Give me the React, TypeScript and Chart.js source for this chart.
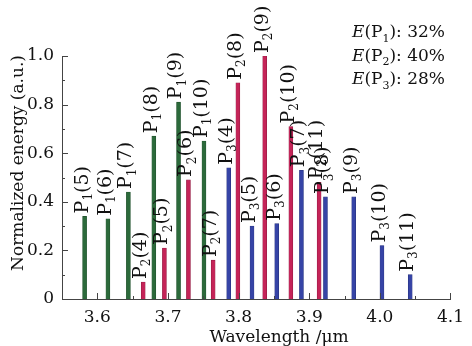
import React, { useEffect, useRef } from "react";
import { Chart, registerables } from "chart.js";

Chart.register(...registerables);

// ---- data ----
const P1_J = [5, 6, 7, 8, 9, 10];
const P1_WL = [3.582, 3.615, 3.644, 3.68, 3.715, 3.751];
const P1_E = [0.34, 0.33, 0.44, 0.67, 0.81, 0.65];

const P2_J = [4, 5, 6, 7, 8, 9, 10, 11];
const P2_WL = [3.665, 3.695, 3.729, 3.764, 3.799, 3.837, 3.874, 3.914];
const P2_E = [0.07, 0.21, 0.49, 0.16, 0.89, 1.0, 0.71, 0.48];

const P3_J = [4, 5, 6, 7, 8, 9, 10, 11];
const P3_WL = [3.786, 3.819, 3.854, 3.889, 3.923, 3.963, 4.003, 4.043];
const P3_E = [0.54, 0.3, 0.31, 0.53, 0.42, 0.42, 0.22, 0.1];

const SERIES_IDX = ["1", "2", "3"];
const ENERGY_SHARE = [32, 40, 28];

const X_TICKS = [3.6, 3.7, 3.8, 3.9, 4.0, 4.1];
const X_MINOR = [3.55, 3.65, 3.75, 3.85, 3.95, 4.05];
const Y_TICKS = [0, 0.2, 0.4, 0.6, 0.8, 1.0];
const Y_MINOR = [0.1, 0.3, 0.5, 0.7, 0.9];

const X_TITLE = "Wavelength /\u03bcm";
const Y_TITLE = "Normalized energy (a.u.)";

const COLORS = ["#2c6a3b", "#c52458", "#3644a6"];
const BORDERS = ["#1f4f2b", "#8e1a40", "#26317c"];

const FONT = '"DejaVu Serif", serif';
const TXT = "#111";

function pts(wl: number[], e: number[], j: number[]) {
  return wl.map((x, i) => ({ x, y: e[i], j: j[i] }));
}

const drawPlugin = {
  id: "custom",
  afterDatasetsDraw(chart: any) {
    const ctx = chart.ctx;
    const xs = chart.scales.x;
    const ys = chart.scales.y;
    const area = chart.chartArea;
    ctx.save();
    // inner ticks
    ctx.strokeStyle = "#444";
    ctx.lineWidth = 1;
    ctx.beginPath();
    const tick = (v: number, len: number, axis: string) => {
      if (axis === "x") {
        const px = Math.round(xs.getPixelForValue(v)) + 0.5;
        ctx.moveTo(px, area.bottom);
        ctx.lineTo(px, area.bottom - len);
      } else {
        const py = Math.round(ys.getPixelForValue(v)) + 0.5;
        ctx.moveTo(area.left, py);
        ctx.lineTo(area.left + len, py);
      }
    };
    X_TICKS.forEach((v) => tick(v, 6, "x"));
    X_MINOR.forEach((v) => tick(v, 3, "x"));
    Y_TICKS.forEach((v) => tick(v, 6, "y"));
    Y_MINOR.forEach((v) => tick(v, 3, "y"));
    ctx.stroke();

    // bar labels
    ctx.fillStyle = TXT;
    chart.data.datasets.forEach((ds: any, di: number) => {
      const meta = chart.getDatasetMeta(di);
      meta.data.forEach((bar: any, i: number) => {
        const p = ds.data[i];
        const bx = bar.x;
        const by = bar.y - 3;
        ctx.save();
        ctx.translate(bx - 2, by);
        ctx.rotate(-Math.PI / 2);
        ctx.textBaseline = "middle";
        ctx.textAlign = "left";
        ctx.font = `19px ${FONT}`;
        let x = 0;
        ctx.fillText("P", x, 0);
        x += ctx.measureText("P").width;
        ctx.font = `12px ${FONT}`;
        ctx.fillText(SERIES_IDX[di], x, 6);
        x += ctx.measureText(SERIES_IDX[di]).width;
        ctx.font = `19px ${FONT}`;
        ctx.fillText(`(${p.j})`, x, 0);
        ctx.restore();
      });
    });

    // energy share annotation
    ENERGY_SHARE.forEach((s, i) => {
      const y = 33 + i * 23.5;
      let x = 352;
      ctx.textBaseline = "middle";
      ctx.textAlign = "left";
      ctx.font = `italic 17px ${FONT}`;
      ctx.fillText("E", x, y);
      x += ctx.measureText("E").width;
      ctx.font = `17px ${FONT}`;
      ctx.fillText("(P", x, y);
      x += ctx.measureText("(P").width;
      ctx.font = `11px ${FONT}`;
      ctx.fillText(SERIES_IDX[i], x, y + 6);
      x += ctx.measureText(SERIES_IDX[i]).width;
      ctx.font = `17px ${FONT}`;
      ctx.fillText(`): ${s}%`, x, y);
    });

    // axis titles
    ctx.font = `17px ${FONT}`;
    ctx.textAlign = "center";
    ctx.textBaseline = "alphabetic";
    ctx.fillText(X_TITLE, 279, 342);
    ctx.save();
    ctx.translate(19, 163);
    ctx.rotate(-Math.PI / 2);
    ctx.textBaseline = "middle";
    ctx.fillText(Y_TITLE, 0, 0);
    ctx.restore();
    ctx.restore();
  },
};

export default function App() {
  const ref = useRef<HTMLCanvasElement | null>(null);
  useEffect(() => {
    if (!ref.current) return;
    const mk = (di: number, data: any[]) => ({
      label: "P" + SERIES_IDX[di],
      data,
      backgroundColor: COLORS[di],
      borderColor: BORDERS[di],
      borderWidth: 0.6,
      barThickness: 4,
      grouped: false,
    });
    const chart = new Chart(ref.current, {
      type: "bar",
      data: {
        datasets: [
          mk(0, pts(P1_WL, P1_E, P1_J)),
          mk(1, pts(P2_WL, P2_E, P2_J)),
          mk(2, pts(P3_WL, P3_E, P3_J)),
        ],
      },
      options: {
        animation: false,
        responsive: false,
        devicePixelRatio: 1,
        layout: {
          autoPadding: false,
          padding: { top: 56, right: 10, left: 0, bottom: 0 },
        },
        plugins: { legend: { display: false }, tooltip: { enabled: false } },
        scales: {
          x: {
            type: "linear",
            min: 3.55,
            max: 4.1,
            offset: false,
            grid: { display: false, drawTicks: false },
            border: { display: true, color: "#444", width: 1 },
            afterBuildTicks: (s: any) => {
              s.ticks = X_TICKS.map((v) => ({ value: v }));
            },
            afterFit: (s: any) => {
              s.height = 47;
            },
            ticks: {
              padding: 8,
              color: TXT,
              font: { family: FONT, size: 17 },
              maxRotation: 0,
              autoSkip: false,
              callback: (v: any) => Number(v).toFixed(1),
            },
          },
          y: {
            type: "linear",
            min: 0,
            max: 1.0,
            grid: { display: false, drawTicks: false },
            border: { display: true, color: "#444", width: 1 },
            afterBuildTicks: (s: any) => {
              s.ticks = Y_TICKS.map((v) => ({ value: v }));
            },
            afterFit: (s: any) => {
              s.width = 62;
            },
            ticks: {
              padding: 8,
              color: TXT,
              font: { family: FONT, size: 17 },
              callback: (v: any) => (Number(v) === 0 ? "0" : Number(v).toFixed(1)),
            },
          },
        },
      },
      plugins: [drawPlugin],
    } as any);
    return () => chart.destroy();
  }, []);
  return (
    <div style={{ position: "fixed", left: 0, top: 0, width: 472, height: 346, background: "#fff" }}>
      <canvas ref={ref} width={472} height={346} style={{ width: 472, height: 346, display: "block" }} />
    </div>
  );
}
